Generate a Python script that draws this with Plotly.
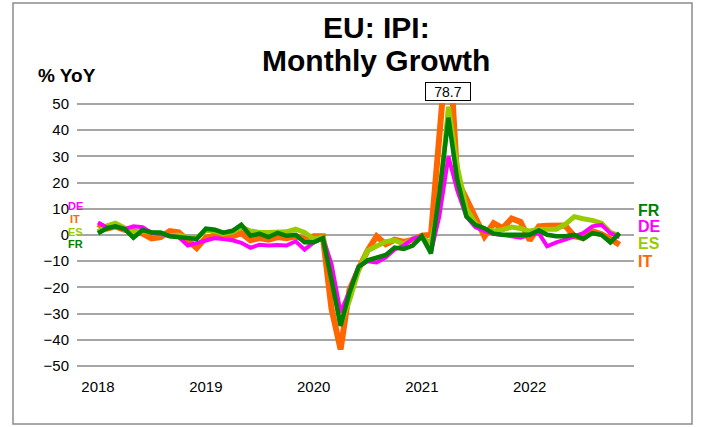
import pandas as pd
import plotly.graph_objects as go

# Monthly observations, Jan 2018 - Nov 2022 (% change on a year earlier)
months = pd.date_range("2018-01-01", periods=59, freq="MS")

fr = [0.7, 2.6, 3.3, 2.3, -1.0, 1.9, 1.0, 1.0, -0.5, -0.8, -1.4, -1.5,
      2.4, 2.0, 0.9, 1.6, 3.9, -0.3, 0.5, -0.8, 0.8, -0.3, 0.1, -2.8,
      -2.8, -1.2, -17.0, -34.7, -22.0, -12.2, -9.7, -8.5, -7.6, -4.8, -5.3, -4.0,
      -0.5, -7.0, 15.5, 44.8, 21.0, 7.0, 3.9, 2.6, 0.5, 0.1, 0.1, 0.5,
      0.1, 1.8, 0.1, -0.5, -0.5, 0.1, -1.5, 0.7, 0.1, -2.8, 0.7]

it = [4.2, 2.5, 3.3, 2.0, 1.5, 0.5, -1.3, -0.8, 1.5, 1.0, -2.0, -5.0,
      -1.0, -0.5, 0.5, -0.5, 0.7, -2.0, -1.2, -1.8, -0.8, -1.2, -0.5, -1.5,
      -0.5, -0.5, -28.0, -43.7, -21.0, -13.0, -6.0, -0.5, -3.5, -1.8, -2.6, -1.8,
      -0.3, 0.1, 38.0, 78.7, 21.0, 13.5, 6.0, -0.5, 4.5, 2.6, 6.3, 5.0,
      -2.0, 3.3, 3.5, 3.7, 3.6, -0.5, -1.2, 1.5, 0.3, -1.5, -3.7]

es = [1.2, 3.5, 4.5, 2.5, 1.0, 1.5, 0.8, 0.5, -0.3, 0.0, -1.0, -1.2,
      1.8, 1.5, 0.5, 1.2, 3.0, 1.5, 1.0, 1.0, 1.3, 1.2, 2.2, 1.0,
      -1.5, -0.8, -12.5, -34.0, -25.0, -13.5, -6.0, -4.0, -2.5, -2.0, -3.5, -1.5,
      -1.0, -3.0, 12.0, 49.0, 26.0, 10.0, 4.5, 2.0, 1.5, 2.0, 3.0, 2.5,
      1.5, 2.2, 2.0, 2.2, 4.0, 7.0, 6.2, 5.6, 4.5, 1.0, -0.3]

de = [4.8, 2.8, 3.2, 2.2, 3.3, 3.0, 0.8, 0.2, -0.5, -0.8, -4.0, -3.0,
      -2.2, -1.2, -1.5, -2.0, -3.0, -4.9, -3.7, -4.0, -3.8, -4.0, -2.4, -5.6,
      -2.8, -1.2, -11.0, -29.5, -21.5, -12.0, -10.0, -10.5, -8.5, -5.5, -4.0, -1.5,
      -0.5, -6.5, 7.0, 30.0, 17.0, 7.0, 3.0, 1.5, 0.5, 0.0, -0.5, -1.0,
      0.1, 0.7, -4.3, -2.8, -1.8, -0.5, 0.7, 3.3, 3.9, 0.7, -0.8]

year_ticks = ["2018-01-01", "2019-01-01", "2020-01-01", "2021-01-01", "2022-01-01"]
year_labels = ["2018", "2019", "2020", "2021", "2022"]

FONT = "Arial, Liberation Sans, sans-serif"
C_DE, C_IT, C_ES, C_FR = "#FF00FF", "#FF6600", "#99CC00", "#008000"

# plot-area geometry in pixels (used to place the free-floating labels)
W, H = 702, 427
ML, MR, MT, MB = 77, 68, 103, 60
PW, PH = W - ML - MR, H - MT - MB


def px(x):
    return (x - ML) / PW


def py(y):
    return (H - MB - y) / PH


fig = go.Figure()
for vals, color, width in [(it, C_IT, 6), (es, C_ES, 5), (de, C_DE, 4), (fr, C_FR, 4.5)]:
    fig.add_trace(go.Scatter(x=months, y=vals, mode="lines",
                             line=dict(color=color, width=width),
                             showlegend=False, hoverinfo="skip"))

annotations = [
    dict(text="<b>EU: IPI:</b>", x=px(376), y=py(28), xref="paper", yref="paper",
         xanchor="center", yanchor="middle", showarrow=False,
         font=dict(family=FONT, size=30, color="black")),
    dict(text="<b>Monthly Growth</b>", x=px(376), y=py(60), xref="paper", yref="paper",
         xanchor="center", yanchor="middle", showarrow=False,
         font=dict(family=FONT, size=30, color="black")),
    dict(text="<b>% YoY</b>", x=px(36), y=py(75), xref="paper", yref="paper",
         xanchor="left", yanchor="middle", showarrow=False,
         font=dict(family=FONT, size=19, color="black")),
    # peak value of the Italian series, above the clipped spike
    dict(text=f"{max(it):.1f}", x=months[it.index(max(it))], y=1, xref="x", yref="paper",
         xanchor="center", yanchor="bottom", yshift=2, showarrow=False,
         width=42, height=15,
         bordercolor="black", borderwidth=1, borderpad=1, bgcolor="white",
         font=dict(family=FONT, size=14, color="black")),
]

# country tags at the start of the lines
for name, color, y in [("DE", C_DE, 206), ("IT", C_IT, 219), ("ES", C_ES, 232), ("FR", C_FR, 244)]:
    annotations.append(dict(text=f"<b>{name}</b>", x=px(75), y=py(y), xref="paper", yref="paper",
                            xanchor="center", yanchor="middle", showarrow=False,
                            font=dict(family=FONT, size=11, color=color)))

# country tags at the end of the lines
for name, color, y in [("FR", C_FR, 210), ("DE", C_DE, 226), ("ES", C_ES, 243), ("IT", C_IT, 261)]:
    annotations.append(dict(text=f"<b>{name}</b>", x=px(636), y=py(y), xref="paper", yref="paper",
                            xanchor="left", yanchor="middle", showarrow=False,
                            font=dict(family=FONT, size=16, color=color)))

fig.update_layout(
    width=W, height=H,
    margin=dict(l=ML, r=MR, t=MT, b=MB),
    paper_bgcolor="white", plot_bgcolor="white",
    font=dict(family=FONT, size=15, color="black"),
    annotations=annotations,
    shapes=[dict(type="rect", xref="paper", yref="paper",
                 x0=px(13), x1=px(692), y0=py(424), y1=py(3),
                 line=dict(color="#8C8C8C", width=1.5), fillcolor="rgba(0,0,0,0)", layer="below")],
    xaxis=dict(range=["2017-10-22", "2022-12-20"], tickvals=year_ticks, ticktext=year_labels,
               showgrid=False, zeroline=False, showline=False, ticks="",
               tickfont=dict(family=FONT, size=15), ticklabelstandoff=9),
    yaxis=dict(range=[-50.4, 50.4], tickvals=list(range(-50, 51, 10)),
               showgrid=True, gridcolor="#A6A6A6", gridwidth=2,
               zeroline=False, showline=False, ticks="",
               tickfont=dict(family=FONT, size=15), ticklabelstandoff=7),
)

fig.write_html("out.html")
